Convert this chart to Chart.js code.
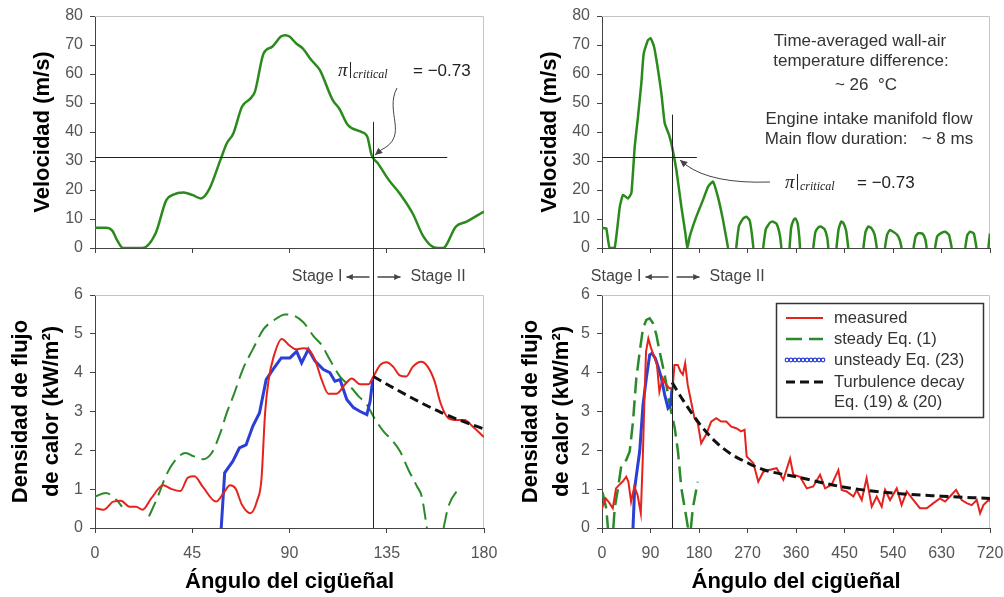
<!DOCTYPE html>
<html>
<head>
<meta charset="utf-8">
<script src="https://cdn.jsdelivr.net/npm/chart.js@4/dist/chart.umd.min.js"></script>
<style>
  body { margin: 0; background: #fff; }
  #wrap { position: relative; width: 1004px; height: 597px; overflow: hidden; }
  canvas { position: absolute; }
</style>
</head>
<body>
<div id="wrap">
  <canvas id="vel-left" width="500" height="262" style="left:0;top:0"></canvas>
  <canvas id="vel-right" width="504" height="262" style="left:500px;top:0"></canvas>
  <canvas id="flux-left" width="500" height="335" style="left:0;top:262px"></canvas>
  <canvas id="flux-right" width="504" height="335" style="left:500px;top:262px"></canvas>
</div>
<script>
// ---- velocity, 0-180 deg (left, top)
const VEL_L_ANG = [0, 5, 8, 10, 13, 22, 28, 33, 36, 41, 45, 49, 53, 58, 61, 64, 68, 72, 74, 78, 82, 86, 88, 90, 93, 96, 100, 104, 110, 113, 117, 123, 126, 128, 131, 136, 141, 147, 152, 157, 161, 167, 172, 180];
const VEL_L = [7, 7, 6, 3, 0, 0, 5, 16.5, 18.3, 19.1, 18.3, 17.1, 20.5, 30.3, 36.1, 39.5, 48.7, 51.6, 53.9, 67.1, 69.4, 72.9, 73.4, 72.9, 70.6, 68.9, 64.9, 61.4, 51, 48.1, 42.4, 40.1, 38.4, 32, 29.1, 23.4, 18.8, 11.9, 3.9, 0.2, 0, 7.4, 9.1, 12.6];

// ---- velocity, 0-720 deg (right, top); null = below zero
const VEL_R_ANG = [0, 4, 8, 14, 23.5, 33, 39, 48, 54.5, 60.7, 66.8, 73, 77.4, 85.4, 90.4, 96.6, 104, 110.2, 116.4, 124.4, 130, 138, 147.3, 154.7, 158.4, 162.7, 175, 187.5, 196.7, 206, 215, 224.5, 234, 240,
  249, 254, 262, 268, 274, 278, 281, 290,
  299, 304, 312, 317, 324, 330, 333, 340,
  348, 351, 356, 359, 363, 366, 367.5, 380,
  392, 396, 402, 406, 413, 418, 420, 428,
  435, 439, 444, 448, 453, 457, 470,
  485, 489, 494, 500, 506, 510, 518,
  525, 529, 534, 541, 548, 553, 556, 566,
  578, 582, 587, 595, 600, 602.5, 610,
  618, 622, 630, 637, 644, 649, 660,
  674, 678, 683, 690, 695, 705,
  717, 719, 720];
const VEL_R = [7, 6.8, 6.8, 0, 0, 14.2, 18.3, 17.1, 18.9, 34.9, 45.3, 56.8, 67.1, 71.7, 72.3, 69.4, 61.4, 53.3, 43, 39, 34.9, 26.9, 14.2, 5.1, 0, 3.9, 10.8, 16.6, 21.1, 22.9, 17.7, 9.7, 0, null,
  0, 7.5, 10.2, 10.8, 9.5, 5, 0, null,
  0, 6.5, 8.8, 9.1, 8.3, 4.5, 0, null,
  0, 7, 9.8, 10.2, 8.5, 4, 0, null,
  0, 5.5, 7.2, 7.4, 6.5, 3.5, 0, null,
  0, 6.5, 9.1, 8.6, 6, 0, null,
  0, 5.5, 7.4, 6.8, 4.5, 0, null,
  0, 4.5, 6.2, 5.5, 4.5, 2.5, 0, null,
  0, 4, 5.1, 4.9, 3, 0, null,
  0, 4, 5.2, 5.6, 4.5, 0, null,
  0, 4.5, 5.6, 5, 0, null,
  0, 3.5, 5];

// ---- heat flux, 0-180 deg (left, bottom)
const MEAS_L_ANG = [0, 4, 8.5, 12, 16, 19, 22, 26, 31.5, 35.5, 39.5, 43, 46, 50, 56, 59.5, 62.5, 65, 68, 72, 75, 77, 78.7, 80.3, 82.6, 86.4, 90, 93, 96.4, 98.7, 101.8, 105, 108, 111.8, 115.7, 118.8, 122.7, 126.5, 128.8, 132, 135, 138, 141, 144, 147, 151, 154, 157, 160, 163.5, 167.5, 171, 175, 180];
const MEAS_L = [0.51, 0.47, 0.68, 0.7, 0.55, 0.55, 0.47, 0.76, 1.1, 1.0, 0.95, 1.3, 1.33, 1.05, 0.68, 0.9, 1.1, 1.02, 0.6, 0.38, 0.7, 1.24, 2.96, 3.8, 4.4, 4.87, 4.7, 4.6, 4.63, 4.6, 4.33, 3.8, 3.46, 3.46, 3.7, 3.85, 3.7, 3.7, 3.9, 4.2, 4.27, 4.15, 3.93, 3.9, 4.15, 4.28, 4.15, 3.8, 3.2, 2.83, 2.78, 2.78, 2.6, 2.34];
const STEADY_L_ANG = [0, 5, 10, 12.5, 20, 25, 29, 33, 38, 42, 45.5, 50, 54, 58, 61, 64, 68.5, 73, 78, 82.6, 88, 92, 96.4, 101, 105, 108.7, 113.4, 118, 122, 125.7, 129.6, 133.5, 137.3, 141.2, 145, 149, 151.2, 153.6, 157, 161.3, 163.5, 169];
const STEADY_L = [0.81, 0.9, 0.72, 0.55, null, 0.3, 0.8, 1.37, 1.8, 1.93, 1.85, 1.77, 1.93, 2.45, 2.97, 3.4, 4.1, 4.6, 5.12, 5.34, 5.5, 5.47, 5.3, 4.95, 4.7, 4.33, 3.9, 3.65, 3.39, 3.18, 2.8, 2.49, 2.27, 1.97, 1.5, 1.07, 0.81, 0, null, 0, 0.55, 1.07];
const UNSTEADY_L_ANG = [58.4, 60, 63.8, 66.8, 69.9, 73, 76.1, 79.2, 82.3, 86.2, 90.2, 93.3, 95.6, 98.7, 101.8, 105.7, 108.7, 111, 113.4, 116.5, 119.6, 122.7, 125.8, 127.3, 128.5];
const UNSTEADY_L = [0, 1.42, 1.72, 2.06, 2.14, 2.62, 2.96, 3.82, 4.08, 4.38, 4.38, 4.55, 4.25, 4.6, 4.3, 4.08, 4.0, 3.78, 3.82, 3.31, 3.1, 3.0, 2.92, 3.26, 3.82];
const DECAY_L_ANG = [128.8, 140, 150, 160, 170, 180];
const DECAY_L = [3.9, 3.55, 3.25, 2.98, 2.75, 2.55];

// ---- heat flux, 0-720 deg (right, bottom)
const MEAS_R_ANG = [0, 2, 7, 14, 20, 26, 32, 38, 45, 49, 54, 60, 66, 72, 75.5, 78.6, 81.7, 86, 91, 97, 102, 106.5, 112.7, 119, 125, 131, 134.4, 140.6, 145.6, 150, 154.3, 159, 165.4, 171.6, 177.8, 184, 193, 202.6, 212, 221, 230.5, 240, 249, 258, 264.5, 268.5, 281, 290, 299.4, 311.8, 324, 336.5, 349, 355, 367.5, 380, 392, 404.6, 414, 426, 438.6, 444.8, 454, 466.5, 472.7, 482, 491, 500.5, 509.8, 519, 525.3, 534.5, 547, 556, 565.5, 578, 590, 602.6, 615, 627, 636.6, 645.8, 657, 667.5, 676.8, 686, 695.4, 701.6, 707.8, 717, 720];
const MEAS_R = [0.5, 0.59, 0.76, 0.64, 0.51, 1.02, 1.11, 1.19, 1.32, 1.19, 0.68, 1.07, 0.85, 0.38, 1.71, 3.25, 4.54, 4.88, 4.63, 4.41, 4.2, 3.51, 3.86, 3.69, 3.6, 3.6, 4.2, 4.2, 4.03, 3.95, 4.24, 3.69, 3.25, 2.83, 2.7, 2.18, 2.4, 2.74, 2.83, 2.74, 2.74, 2.61, 2.57, 2.49, 2.53, 1.84, 1.67, 1.19, 1.45, 1.5, 1.54, 1.24, 1.79, 1.37, 1.32, 1.02, 1.07, 1.37, 1.02, 1.11, 1.49, 0.98, 0.94, 0.81, 0.98, 0.72, 1.28, 0.55, 0.81, 0.55, 0.98, 0.72, 1.02, 0.59, 0.94, 0.72, 0.51, 0.51, 0.64, 0.76, 0.68, 0.81, 0.98, 0.72, 0.64, 0.59, 0.72, 0.38, 0.59, 0.72, 0.68];
const STEADY_R_ANG = [0, 2, 8, 11, 17, 21, 23.5, 29.7, 36, 45, 51.4, 57.5, 63.7, 70, 76, 82.3, 88.5, 94.7, 101, 107, 116.4, 125.7, 135, 141, 147.3, 154.7, 159.6, 162, 165, 168.4, 177.6];
const STEADY_R = [0.8, 0.85, 0.5, 0, null, 0, 0.5, 1.02, 1.62, 1.75, 1.97, 2.74, 3.86, 4.54, 5.14, 5.36, 5.4, 5.27, 4.97, 4.54, 3.94, 3.17, 2.57, 1.97, 1.02, 0.42, 0, null, 0, 0.5, 1.19];
const UNSTEADY_R_ANG = [57.5, 60.6, 65.6, 69.9, 76.1, 82.3, 88.5, 92.8, 99, 104, 110.2, 116.4, 122.5, 127.5, 130];
const UNSTEADY_R = [0, 1.02, 1.54, 1.97, 3.17, 3.86, 4.46, 4.5, 4.37, 4.16, 3.86, 3.43, 3.09, 3.17, 3.6];
const DECAY_R_ANG = [130, 150, 180, 210, 240, 270, 300, 360, 450, 540, 630, 720];
const DECAY_R = [3.75, 3.3, 2.7, 2.23, 1.9, 1.68, 1.5, 1.32, 1.05, 0.9, 0.82, 0.76];

const CRIT_VEL = 31.5;          // velocity where Pi|critical = -0.73
const CRIT_ANG_L = 128.5;
const CRIT_ANG_R = 130;

const FONT = "'Liberation Sans', Arial, Helvetica, sans-serif";
const SERIF = "'Liberation Serif', 'Times New Roman', serif";
Chart.defaults.font.family = FONT;
Chart.defaults.animation = false;

const pts = (xs, ys) => xs.map((x, i) => ({ x: x, y: ys[i] }));

function scales(o) {
  return {
    x: {
      type: 'linear', min: 0, max: o.xMax,
      afterFit: s => { s.height = o.xHeight; s.paddingLeft = 0; s.paddingRight = 0; },
      afterBuildTicks: s => { s.ticks = o.xTicks.map(v => ({ value: v })); },
      ticks: { display: o.showX, color: '#555', font: { size: 16 }, padding: 11, maxRotation: 0 },
      grid: { drawOnChartArea: false, color: '#444', tickLength: 5 },
      border: { color: '#444' },
      title: { display: o.showX, text: 'Ángulo del cigüeñal', color: '#000', font: { size: 22, weight: 'bold', lineHeight: 1.4 }, padding: { top: 0, bottom: 0 } }
    },
    y: {
      min: 0, max: o.yMax,
      afterFit: s => { s.width = o.yWidth; s.paddingTop = 0; s.paddingBottom = 0; },
      ticks: { stepSize: o.yStep, color: '#555', font: { size: 16 }, padding: 7 },
      grid: { drawOnChartArea: false, color: '#444', tickLength: 5 },
      border: { color: '#444' },
      title: { display: true, text: o.yTitle, color: '#000', font: { size: 22, weight: 'bold', lineHeight: 1.4 }, padding: { top: o.yTitlePad, bottom: 0 } }
    }
  };
}

// light grey top / right edge of the plot area
const frame = {
  id: 'frame',
  beforeDatasetsDraw(chart) {
    const a = chart.chartArea, c = chart.ctx;
    c.save();
    c.strokeStyle = '#c4c4c4';
    c.lineWidth = 1;
    c.beginPath();
    c.moveTo(a.left, a.top + 0.5);
    c.lineTo(a.right - 0.5, a.top + 0.5);
    c.lineTo(a.right - 0.5, a.bottom);
    c.stroke();
    c.restore();
  }
};

function arrow(c, x1, y1, x2, y2, size) {
  const ang = Math.atan2(y2 - y1, x2 - x1);
  c.beginPath(); c.moveTo(x1, y1); c.lineTo(x2, y2); c.stroke();
  c.beginPath();
  c.moveTo(x2, y2);
  c.lineTo(x2 - size * Math.cos(ang - 0.45), y2 - size * Math.sin(ang - 0.45));
  c.lineTo(x2 - size * Math.cos(ang + 0.45), y2 - size * Math.sin(ang + 0.45));
  c.closePath(); c.fill();
}

function piLabel(c, x, y, gap) {
  c.fillStyle = '#222'; c.strokeStyle = '#222'; c.lineWidth = 1;
  c.textAlign = 'left'; c.textBaseline = 'alphabetic';
  c.font = 'italic 19px ' + SERIF;
  c.fillText('π', x, y + 6);
  c.beginPath(); c.moveTo(x + 12.5, y - 8); c.lineTo(x + 12.5, y + 8); c.stroke();
  c.font = 'italic 12px ' + SERIF;
  c.fillText('critical', x + 15, y + 8);
  c.font = '17px ' + FONT;
  c.fillText('= −0.73', x + gap, y + 6);
}

function velNotes(angle, lineTop, lineEnd, extra) {
  return {
    id: 'velNotes',
    afterDatasetsDraw(chart) {
      const c = chart.ctx, x = chart.scales.x, y = chart.scales.y;
      const px = Math.round(x.getPixelForValue(angle)) + 0.5;
      const py = Math.round(y.getPixelForValue(CRIT_VEL)) + 0.5;
      c.save();
      c.strokeStyle = '#222'; c.lineWidth = 1;
      c.beginPath();
      c.moveTo(x.getPixelForValue(0), py); c.lineTo(x.getPixelForValue(lineEnd), py);
      c.moveTo(px, y.getPixelForValue(lineTop)); c.lineTo(px, chart.height);
      c.stroke();
      extra(c, x, y);
      c.restore();
    }
  };
}

function drawLegend(chart) {
  const c = chart.ctx, ds = chart.data.datasets;
  const bx = 276.5, by = 41.5, bw = 207, bh = 114;
  c.fillStyle = '#fff'; c.fillRect(bx, by, bw, bh);
  c.strokeStyle = '#333'; c.lineWidth = 1.5; c.strokeRect(bx, by, bw, bh);
  const rows = [56, 77, 98, 120];
  ds.forEach((d, i) => {
    const yy = rows[i];
    c.save();
    c.strokeStyle = d.borderColor; c.fillStyle = d.borderColor;
    if (d.legendDots) {
      c.lineWidth = 1.2;
      for (let k = 287; k <= 323; k += 4) { c.beginPath(); c.arc(k, yy, 1.8, 0, Math.PI * 2); c.stroke(); }
    } else {
      c.lineWidth = d.borderWidth; c.setLineDash(d.borderDash || []);
      c.beginPath(); c.moveTo(286, yy); c.lineTo(323, yy); c.stroke();
    }
    c.restore();
    c.fillStyle = '#333'; c.font = '16.5px ' + FONT; c.textAlign = 'left'; c.textBaseline = 'middle';
    d.label.split('\n').forEach((t, j) => c.fillText(t, 334, yy + j * 20));
  });
}

function fluxNotes(angle, legend) {
  return {
    id: 'fluxNotes',
    afterDatasetsDraw(chart) {
      const c = chart.ctx, x = chart.scales.x, y = chart.scales.y;
      const px = Math.round(x.getPixelForValue(angle)) + 0.5;
      c.save();
      c.strokeStyle = '#222'; c.lineWidth = 1;
      c.beginPath(); c.moveTo(px, 0); c.lineTo(px, y.getPixelForValue(0)); c.stroke();
      c.fillStyle = '#444'; c.font = '16px ' + FONT; c.textBaseline = 'middle';
      c.textAlign = 'right'; c.fillText('Stage I', px - 31, 15);
      c.textAlign = 'left'; c.fillText('Stage II', px + 37, 15);
      c.strokeStyle = '#444'; c.lineWidth = 1.5;
      arrow(c, px - 4, 15, px - 27, 15, 7);
      arrow(c, px + 4, 15, px + 27, 15, 7);
      if (legend) drawLegend(chart);
      c.restore();
    }
  };
}

const common = { responsive: false, plugins: { legend: { display: false }, tooltip: { enabled: false } }, elements: { point: { radius: 0 } } };

new Chart(document.getElementById('vel-left'), {
  type: 'line',
  data: { datasets: [{ data: pts(VEL_L_ANG, VEL_L), borderColor: '#2b8a1c', borderWidth: 2.5, cubicInterpolationMode: 'monotone' }] },
  options: Object.assign({}, common, {
    layout: { padding: { top: 16, right: 16, left: 0, bottom: 0 } },
    scales: scales({ xMax: 180, xTicks: [0, 45, 90, 135, 180], yMax: 80, yStep: 10, yWidth: 95, xHeight: 14, showX: false, yTitle: 'Velocidad (m/s)', yTitlePad: 28 })
  }),
  plugins: [frame, velNotes(CRIT_ANG_L, 43.5, 163, (c, x, y) => {
    piLabel(c, 338, 70, 75);
    c.strokeStyle = '#444'; c.fillStyle = '#444'; c.lineWidth = 1;
    c.beginPath();
    c.moveTo(397, 88);
    c.bezierCurveTo(384, 112, 410, 136, 381, 150);
    c.stroke();
    arrow(c, 381, 150, 375, 155, 8);
  })]
});

new Chart(document.getElementById('vel-right'), {
  type: 'line',
  data: { datasets: [{ data: pts(VEL_R_ANG, VEL_R), borderColor: '#2b8a1c', borderWidth: 2.5, tension: 0.15, spanGaps: false }] },
  options: Object.assign({}, common, {
    layout: { padding: { top: 16, right: 14, left: 0, bottom: 0 } },
    scales: scales({ xMax: 720, xTicks: [0, 90, 180, 270, 360, 450, 540, 630, 720], yMax: 80, yStep: 10, yWidth: 102, xHeight: 14, showX: false, yTitle: 'Velocidad (m/s)', yTitlePad: 35 })
  }),
  plugins: [frame, velNotes(CRIT_ANG_R, 46, 176, (c, x, y) => {
    c.fillStyle = '#333'; c.textAlign = 'center'; c.textBaseline = 'middle'; c.font = '17px ' + FONT;
    c.fillText('Time-averaged wall-air', 360, 41);
    c.fillText('temperature difference:', 361, 61);
    c.fillText('~ 26  °C', 366, 85);
    c.fillText('Engine intake manifold flow', 369, 119);
    c.fillText('Main flow duration:   ~ 8 ms', 369, 139);
    piLabel(c, 285, 182, 72);
    c.strokeStyle = '#444'; c.fillStyle = '#444'; c.lineWidth = 1;
    c.beginPath();
    c.moveTo(270, 182);
    c.quadraticCurveTo(212, 184, 186, 165);
    c.stroke();
    arrow(c, 186, 165, 180, 160, 8);
  })]
});

new Chart(document.getElementById('flux-left'), {
  type: 'line',
  data: {
    datasets: [
      { label: 'measured', data: pts(MEAS_L_ANG, MEAS_L), borderColor: '#e5231d', borderWidth: 2, cubicInterpolationMode: 'monotone', order: 2 },
      { label: 'steady Eq. (1)', data: pts(STEADY_L_ANG, STEADY_L), borderColor: '#2a8a2a', borderWidth: 2, borderDash: [16, 7], cubicInterpolationMode: 'monotone', order: 4 },
      { label: 'unsteady Eq. (23)', data: pts(UNSTEADY_L_ANG, UNSTEADY_L), borderColor: '#2b3fd6', borderWidth: 3, order: 3 },
      { label: 'Turbulence decay\nEq. (19) & (20)', data: pts(DECAY_L_ANG, DECAY_L), borderColor: '#111', borderWidth: 3, borderDash: [9, 5], cubicInterpolationMode: 'monotone', order: 1 }
    ]
  },
  options: Object.assign({}, common, {
    layout: { padding: { top: 33, right: 16, left: 0, bottom: 0 } },
    scales: scales({ xMax: 180, xTicks: [0, 45, 90, 135, 180], yMax: 6, yStep: 1, yWidth: 95, xHeight: 69, showX: true, yTitle: ['Densidad de flujo', 'de calor (kW/m²)'], yTitlePad: 6 })
  }),
  plugins: [frame, fluxNotes(CRIT_ANG_L, false)]
});

new Chart(document.getElementById('flux-right'), {
  type: 'line',
  data: {
    datasets: [
      { label: 'measured', data: pts(MEAS_R_ANG, MEAS_R), borderColor: '#e5231d', borderWidth: 2, order: 2 },
      { label: 'steady Eq. (1)', data: pts(STEADY_R_ANG, STEADY_R), borderColor: '#2a8a2a', borderWidth: 2.5, borderDash: [16, 7], order: 4 },
      { label: 'unsteady Eq. (23)', data: pts(UNSTEADY_R_ANG, UNSTEADY_R), borderColor: '#2b3fd6', borderWidth: 3, legendDots: true, order: 3 },
      { label: 'Turbulence decay\nEq. (19) & (20)', data: pts(DECAY_R_ANG, DECAY_R), borderColor: '#111', borderWidth: 3, borderDash: [9, 5], cubicInterpolationMode: 'monotone', order: 1 }
    ]
  },
  options: Object.assign({}, common, {
    layout: { padding: { top: 33, right: 14, left: 0, bottom: 0 } },
    scales: scales({ xMax: 720, xTicks: [0, 90, 180, 270, 360, 450, 540, 630, 720], yMax: 6, yStep: 1, yWidth: 102, xHeight: 69, showX: true, yTitle: ['Densidad de flujo', 'de calor (kW/m²)'], yTitlePad: 16 })
  }),
  plugins: [frame, fluxNotes(CRIT_ANG_R, true)]
});
</script>
</body>
</html>
